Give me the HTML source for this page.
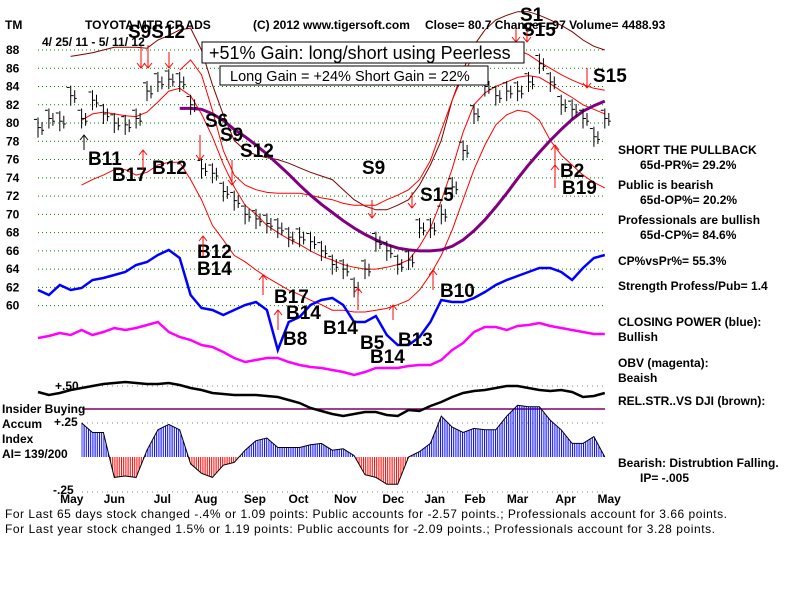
<!DOCTYPE html>
<html><head><meta charset="utf-8"><title>TM Tigersoft chart</title>
<style>
html,body{margin:0;padding:0;background:#fff;width:800px;height:600px;overflow:hidden}
svg{display:block;font-family:"Liberation Sans",Arial,sans-serif}
.t{font-size:12px;font-weight:bold;fill:#000}
.big{font-size:19px;font-weight:bold;fill:#000}
</style></head><body>
<svg id="chart" width="800" height="600" viewBox="0 0 800 600">
<defs>
<pattern id="pb" width="2.2" height="4" patternUnits="userSpaceOnUse"><rect x="0" y="0" width="1" height="4" fill="#0000ff"/></pattern>
<pattern id="pr" width="2.2" height="4" patternUnits="userSpaceOnUse"><rect x="0" y="0" width="1" height="4" fill="#ff0000"/></pattern>
<clipPath id="clipPos"><rect x="0" y="300" width="800" height="157"/></clipPath>
<clipPath id="clipNeg"><rect x="0" y="457" width="800" height="60"/></clipPath>
<clipPath id="clipTop"><rect x="0" y="8" width="800" height="380"/></clipPath>
</defs>
<rect x="0" y="0" width="800" height="600" fill="#fff"/>
<g id="grid"></g>
<g id="series" clip-path="url(#clipTop)"></g>
<g id="lower"></g>
<g id="ann"></g>
<text class="t" x="5" y="29">TM</text>
<text class="t" x="85" y="29">TOYOTA MTR CP ADS</text>
<text class="t" x="253" y="29">(C) 2012 www.tigersoft.com</text>
<text class="t" x="425" y="29">Close=  80.7  Change= .97 Volume= 4488.93</text>
<text class="t" x="42" y="46">4/ 25/ 11 - 5/ 11/ 12</text>
<g>
<rect x="202" y="42" width="322" height="21" fill="#fff" stroke="#000" stroke-width="1"/>
<text x="209" y="59" font-size="18" fill="#000">+51% Gain: long/short using Peerless</text>
</g>
<g>
<rect x="220" y="66" width="268" height="19" fill="#fff" stroke="#000" stroke-width="1"/>
<text x="230" y="81" font-size="14.5" fill="#000">Long Gain = +24%  Short Gain = 22%</text>
</g>
<g>
<text class="t" x="618" y="154">SHORT THE PULLBACK</text>
<text class="t" x="640" y="169">65d-PR%= 29.2%</text>
<text class="t" x="618" y="189">Public is bearish</text>
<text class="t" x="640" y="204">65d-OP%= 20.2%</text>
<text class="t" x="618" y="224">Professionals are bullish</text>
<text class="t" x="640" y="239">65d-CP%= 84.6%</text>
<text class="t" x="618" y="265">CP%vsPr%=  55.3%</text>
<text class="t" x="618" y="290">Strength Profess/Pub= 1.4</text>
<text class="t" x="618" y="326">CLOSING POWER (blue):</text>
<text class="t" x="618" y="341">Bullish</text>
<text class="t" x="618" y="367">OBV (magenta):</text>
<text class="t" x="618" y="382">Beaish</text>
<text class="t" x="618" y="405">REL.STR..VS DJI (brown):</text>
<text class="t" x="618" y="467">Bearish: Distrubtion Falling.</text>
<text class="t" x="640" y="482">IP= -.005</text>
</g>
<g>
<text class="t" x="2" y="413">Insider Buying</text>
<text class="t" x="2" y="428">Accum</text>
<text class="t" x="2" y="443">Index</text>
<text class="t" x="2" y="458">AI= 139/200</text>
<text class="t" x="55" y="390">+.50</text>
<text class="t" x="54" y="426">+.25</text>
<text class="t" x="53" y="494">-.25</text>
</g>
<text x="5" y="518" font-size="12" fill="#000" textLength="722">For Last 65 days stock changed -.4% or  1.09 points:  Public accounts for -2.57 points.;  Professionals account for  3.66 points.</text>
<text x="5" y="533" font-size="12" fill="#000" textLength="710">For Last year stock changed  1.5% or  1.19 points:  Public accounts for -2.09 points.;  Professionals account for  3.28 points.</text>
</svg>
<script>
// ---- data (weekly, week 0 = 4/25/11) ----
const closes = [79.5,80.5,80.2,83,80.5,82.5,81,80,79.8,80.5,83.5,84.5,84.8,84.5,82,75,74.5,72.5,71.5,70,69.5,69,68.5,67.5,67.5,67,66,64.5,64,62,64,67,66,64.5,65,68.5,68.5,70,73,77,81,84,83,83.5,83.5,84.5,86.5,84.5,82,81.5,80.5,78.5,80.5];
const ma21 = [80.3,81,81.2,81,80.8,80.7,81.2,82.3,83.5,83.8,83,81,78.5,75.5,73,71,70,68.8,68,67.3,66.7,66,65.4,65,64.5,64.2,64,64,64.2,64.5,65,66.5,68.5,71.5,75,79,82,83.3,84,84.5,85,85.2,85,84.3,83.5,82.8,82,81.5,81];
const lowerBand = [73.2,73.8,74.3,74.9,74.9,74.3,74.6,75.4,75.7,75.7,73.8,71.6,68.8,67.2,65.5,64.8,63.9,63.1,62.4,61.7,61.2,60.6,60.1,59.5,59.5,59.3,59.3,59.5,59.7,60.1,60.6,61.7,63.4,65.5,68.3,71.6,74.9,77.6,79.8,80.9,81.4,81.2,80.3,78.1,76.5,75.4,74.3,73.5,72.9];
const upperBand = [85.8,86.9,85.3,81.4,77,74.3,73.2,72.7,72.4,72.3,72.3,72.3,72.1,71.8,71.6,71.2,71,71,71,71.6,72.1,72.7,73.8,75.9,79.2,82.5,85.3,87.5,88.5,88.5,88.5,88,87.5,86.7,86,85.3,84.7,84.2,83.8,83.6];
const brownBand = [87.3,87.5,87.7,88,88.3,88.3,88.3,88.2,89.1,89.6,90.2,90.4,88,84.2,80.9,78.1,77,76.5,76.2,76,75.6,75.1,74.6,74.2,73.8,72.7,71.6,70.9,70.5,70.5,71,71.6,73.2,75.4,78.1,82.5,85.8,88.5,90.2,91.3,91.8,92.2,92.2,91.8,91.3,90.7,90,89.1,88.4,88];
const ma65 = [81.6,81.6,81.5,81,80.3,79.3,78.5,77.6,76.6,75.5,74.4,73.2,72.1,71.1,70.2,69.3,68.5,67.8,67.2,66.7,66.3,66.1,66,66,66.1,66.5,67.2,68.2,69.4,70.8,72.3,73.9,75.4,76.8,78.1,79.3,80.4,81.3,81.9,82.4];
const closingPower = [70,65,75,70,72,80,82,85,88,95,98,105,110,102,65,52,50,45,50,55,58,50,10,38,43,55,60,62,55,38,38,44,25,15,15,23,38,60,58,58,62,68,75,80,84,88,92,92,88,80,92,102,105];
const obv = [42,44,47,45,50,45,48,52,50,52,55,58,48,43,40,35,33,28,22,18,20,22,22,18,15,13,12,10,8,5,8,12,12,12,14,15,15,20,30,37,48,53,53,50,54,55,57,54,52,50,48,46,46];
const relStrength = [28,25,27,30,32,34,36,37,38,37,36,36,37,35,32,30,27,26,25,25,25,24,23,20,17,12,9,6,4,6,8,8,5,4,10,9,14,18,23,27,29,30,32,34,34,32,30,29,30,28,23,24,27];
const accum = [0.25,0.18,0.18,-0.15,-0.14,-0.15,0.05,0.2,0.24,0.2,-0.05,-0.12,-0.15,-0.06,-0.04,0.05,0.12,0.14,0.07,0.07,0.07,0.09,0.1,0.05,0.06,0.01,-0.13,-0.15,-0.2,-0.2,0,0.04,0.1,0.3,0.22,0.18,0.21,0.2,0.2,0.3,0.38,0.37,0.37,0.27,0.2,0.1,0.1,0.15,0];
const priceTicks = [88,86,84,82,80,78,76,74,72,70,68,66,64,62,60];
const monthLabels = ["May","Jun","Jul","Aug","Sep","Oct","Nov","Dec","Jan","Feb","Mar","Apr","May"];
const monthWeeks = [3.1,7,11.4,15.4,19.9,23.9,28.2,32.6,36.4,40.1,44,48.4,52.4];
// offsets of series start (week index)
const MA21_START = 4, UPPER_START = 13, BROWN_START = 3, MA65_START = 13, ACCUM_START = 4;

// ---- axes ----
const NS = "http://www.w3.org/2000/svg";
const xW = w => 38 + w * 10.9;
const yP = v => 50 + (88 - v) * 9.13;
const yCP = v => 360 - v;
const yOBV = v => 380 - v;
const yRS = v => 420 - v;
const yAI = v => 457 - v * 136;

function mk(tag, attrs, parent) {
  const e = document.createElementNS(NS, tag);
  for (const k in attrs) e.setAttribute(k, attrs[k]);
  parent.appendChild(e);
  return e;
}
function pts(arr, start, yf) { return arr.map((v, i) => xW(i + start).toFixed(1) + "," + yf(v).toFixed(1)).join(" "); }

const grid = document.getElementById("grid");
const series = document.getElementById("series");
const lower = document.getElementById("lower");

priceTicks.forEach(p => {
  const l = mk("line", {x1: 38, x2: 605, y1: yP(p), y2: yP(p), stroke: "#008000", "stroke-width": 1, "stroke-dasharray": "1,3"}, grid);
  
  
  if (p >= 60) {
    const t = mk("text", {x: 6, y: yP(p) + 4, class: "t"}, grid);
    t.textContent = p;
    
    
  }
});

// price series lines
function line(arr, start, yf, color, width, name, dash) {
  const a = {points: pts(arr, start, yf), fill: "none", stroke: color, "stroke-width": width};
  if (dash) a["stroke-dasharray"] = dash;
  const e = mk("polyline", a, series);
  
  
  return e;
}
line(brownBand, BROWN_START, yP, "#800000", 1, "long-band-brown");
line(upperBand, UPPER_START, yP, "#ff0000", 1, "upper-band-red");
line(lowerBand, MA21_START, yP, "#ff0000", 1, "lower-band-red");
line(ma21, MA21_START, yP, "#ff0000", 1, "ma21-red");
line(ma65, MA65_START, yP, "#800080", 3, "ma65-purple");
line(closingPower, 0, yCP, "#0000ff", 2.5, "closing-power-line");
line(obv, 0, yOBV, "#ff00ff", 2.5, "obv-line");

// price bars
closes.forEach((c, i) => {
  const x = xW(i);
  const g = mk("g", {stroke: "#000", "stroke-width": 1}, series);
  
  
  mk("line", {x1: x, x2: x, y1: yP(c + 1.1), y2: yP(c - 1.1)}, g);
  mk("line", {x1: x, x2: x + 3, y1: yP(c), y2: yP(c)}, g);
  mk("line", {x1: x - 4, x2: x - 1, y1: yP(c + 0.9), y2: yP(c + 0.9)}, g);
  mk("line", {x1: x + 4, x2: x + 4, y1: yP(c + 0.6), y2: yP(c - 0.8)}, g);
  mk("line", {x1: x + 4, x2: x + 6, y1: yP(c - 0.3), y2: yP(c - 0.3)}, g);
});

// lower panel reference lines
[[386, "#808080", "1,4", "rs-50-line"], [423, "#808080", "1,4", "ai-plus25-line"], [492, "#808080", "1,4", "ai-minus25-line"]].forEach(r => {
  const e = mk("line", {x1: 82, x2: 605, y1: r[0], y2: r[0], stroke: r[1], "stroke-dasharray": r[2]}, lower);
  
  
});
const ins = mk("line", {x1: 82, x2: 605, y1: 409, y2: 409, stroke: "#800060", "stroke-width": 1.5}, lower);



// accumulation index area
const aiPts = pts(accum, ACCUM_START, yAI);
const poly = xW(ACCUM_START) + ",457 " + aiPts + " " + xW(ACCUM_START + accum.length - 1) + ",457";
const pos = mk("polygon", {points: poly, fill: "url(#pb)", "clip-path": "url(#clipPos)"}, lower);


const neg = mk("polygon", {points: poly, fill: "url(#pr)", "clip-path": "url(#clipNeg)"}, lower);


const aiLine = mk("polyline", {points: aiPts, fill: "none", stroke: "#000", "stroke-width": 1}, lower);



// relative strength
const rs = mk("polyline", {points: pts(relStrength, 0, yRS), fill: "none", stroke: "#000", "stroke-width": 2.5}, lower);



// month labels
monthLabels.forEach((m, i) => {
  const t = mk("text", {x: xW(monthWeeks[i]), y: 503, class: "t", "text-anchor": "middle"}, lower);
  t.textContent = m;
  
  
});

// signal annotations
const ann = document.getElementById("ann");
const labels = [["S9S12",128,38],["B11",88,165],["B17",112,181],["B12",152,174],["S6",205,127],["S9",220,141],["S12",240,157],["S9",362,174],["S15",420,201],["B12",197,258],["B14",197,275],["B17",274,303],["B14",286,319],["B8",283,345],["B14",323,334],["B5",360,349],["B14",370,363],["B13",398,346],["B10",440,297],["S1",520,21],["S15",522,36],["S15",593,82],["B2",560,177],["B19",562,194]];
labels.forEach(l => {
  const t = mk("text", {x: l[1], y: l[2], class: "big"}, ann);
  t.textContent = l[0];
  
  
});
const arrows = [[141,45,68,1],[148,45,68,1],[169,52,68,1],[200,135,160,1],[232,160,185,1],[372,200,218,1],[412,192,208,1],[516,28,42,1],[527,30,42,1],[587,68,88,1],[84,150,135,-1],[143,170,150,-1],[203,256,236,-1],[263,295,275,-1],[278,330,310,-1],[358,310,288,-1],[393,320,305,-1],[433,290,270,-1],[555,175,145,-1],[555,188,165,-1]];
arrows.forEach(a => {
  const g = mk("g", {stroke: a[0] === 84 ? "#000" : "#ff0000", "stroke-width": 1, fill: "none"}, ann);
  
  
  mk("line", {x1: a[0], x2: a[0], y1: a[1], y2: a[2]}, g);
  mk("polyline", {points: (a[0]-4) + "," + (a[2]-5*a[3]) + " " + a[0] + "," + a[2] + " " + (a[0]+4) + "," + (a[2]-5*a[3])}, g);
});
</script>
</body></html>
